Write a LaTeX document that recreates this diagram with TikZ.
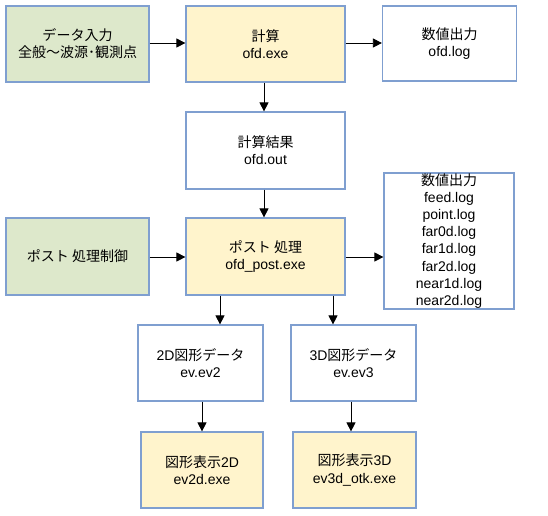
\documentclass[tikz,border=0pt]{standalone}
\usepackage{fontspec}
\setmainfont{Liberation Sans}
\newfontfamily\cjk{Noto Sans CJK JP}
\usetikzlibrary{arrows.meta}
\definecolor{bordc}{HTML}{7F9FD0}
\definecolor{greenf}{HTML}{DDE8CB}
\definecolor{yellowf}{HTML}{FFF4CC}
\tikzset{
  box/.style={draw=bordc, line width=1.2pt, align=center, inner sep=0pt,
    font=\fontsize{14}{17.1}\selectfont},
  gbox/.style={box, fill=greenf},
  ybox/.style={box, fill=yellowf},
  wbox/.style={box, fill=white},
  arr/.style={-{Triangle[length=9pt,width=9pt]}, line width=0.8pt, black},
}
\begin{document}
\begin{tikzpicture}[x=1pt,y=-1pt]
\useasboundingbox (0,0) rectangle (548,515);
\node[gbox, minimum width=143pt, minimum height=76pt] (inp) at (77.5,44) {{\cjk データ入力}\\{\cjk 全般～波源･観測点}};
\node[ybox, minimum width=159pt, minimum height=76pt] (calc) at (265.5,44) {{\cjk 計算}\\ofd.exe};
\node[wbox, minimum width=134pt, minimum height=75pt] (log1) at (449.5,43.5) {{\cjk 数値出力}\\ofd.log};
\node[wbox, minimum width=159pt, minimum height=77pt] (res) at (265.5,150.5) {{\cjk 計算結果}\\ofd.out};
\node[gbox, minimum width=143pt, minimum height=77pt] (ctl) at (77.5,256.5) {{\cjk ポスト 処理制御}};
\node[ybox, minimum width=159pt, minimum height=77pt] (post) at (265.5,256.5) {{\cjk ポスト 処理}\\ofd\_post.exe};
\node[wbox, minimum width=130pt, minimum height=136pt] (log2) at (449,241) {{\cjk 数値出力}\\feed.log\\point.log\\far0d.log\\far1d.log\\far2d.log\\near1d.log\\near2d.log};
\node[wbox, minimum width=125pt, minimum height=76pt] (d2) at (200.5,363) {2D{\cjk 図形データ}\\ev.ev2};
\node[wbox, minimum width=125pt, minimum height=76pt] (d3) at (353.5,363) {3D{\cjk 図形データ}\\ev.ev3};
\node[ybox, minimum width=122pt, minimum height=76pt] (v2) at (202,470) {{\cjk 図形表示}2D\\ev2d.exe};
\node[ybox, minimum width=123pt, minimum height=76pt] (v3) at (354.5,470) {{\cjk 図形表示}3D\\ev3d\_otk.exe};
\coordinate (cx) at (264,0);
\coordinate (c2) at (220,0);
\coordinate (c3) at (333,0);
\coordinate (c4) at (202,0);
\coordinate (c5) at (351,0);
\coordinate (r1) at (0,43);
\coordinate (r2) at (0,257);
\draw[arr] (inp.east |- r1) -- (calc.west |- r1);
\draw[arr] (calc.east |- r1) -- (log1.west |- r1);
\draw[arr] (calc.south -| cx) -- (res.north -| cx);
\draw[arr] (res.south -| cx) -- (post.north -| cx);
\draw[arr] (ctl.east |- r2) -- (post.west |- r2);
\draw[arr] (post.east |- r2) -- (log2.west |- r2);
\draw[arr] (post.south -| c2) -- (d2.north -| c2);
\draw[arr] (post.south -| c3) -- (d3.north -| c3);
\draw[arr] (d2.south -| c4) -- (v2.north -| c4);
\draw[arr] (d3.south -| c5) -- (v3.north -| c5);
\end{tikzpicture}
\end{document}
